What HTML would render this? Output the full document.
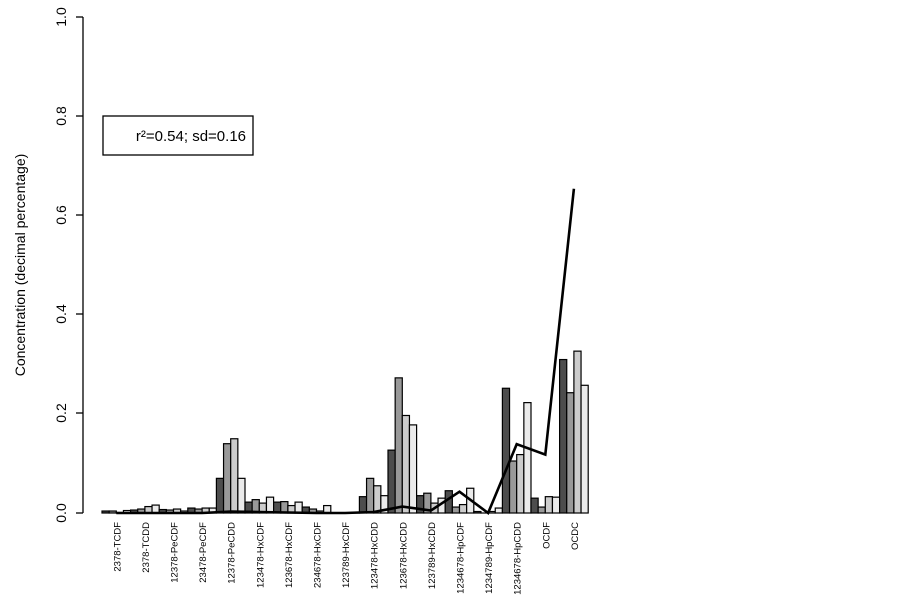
<!DOCTYPE html>
<html><head><meta charset="utf-8"><style>
html,body{margin:0;padding:0;background:#fff;}
svg{display:block;font-family:"Liberation Sans",Arial,sans-serif;}
</style></head><body>
<svg id="s" width="903" height="614" viewBox="0 0 903 614" xmlns="http://www.w3.org/2000/svg">
<g id="bars"></g>
<line x1="83" y1="17" x2="83" y2="513" stroke="#000" stroke-width="1.3"/>
<g stroke="#000" stroke-width="1.3">
<line x1="76" y1="17" x2="83" y2="17"/><line x1="76" y1="116" x2="83" y2="116"/>
<line x1="76" y1="215" x2="83" y2="215"/><line x1="76" y1="314" x2="83" y2="314"/>
<line x1="76" y1="413" x2="83" y2="413"/><line x1="76" y1="513" x2="83" y2="513"/>
</g>
<g font-size="14" fill="#000" text-anchor="middle">
<text transform="translate(66,17) rotate(-90)">1.0</text>
<text transform="translate(66,116) rotate(-90)">0.8</text>
<text transform="translate(66,215) rotate(-90)">0.6</text>
<text transform="translate(66,314) rotate(-90)">0.4</text>
<text transform="translate(66,413) rotate(-90)">0.2</text>
<text transform="translate(66,513) rotate(-90)">0.0</text>
<text transform="translate(25,265) rotate(-90)">Concentration (decimal percentage)</text>
</g>
<rect x="103" y="116" width="150" height="39" fill="#fff" stroke="#000" stroke-width="1.3"/>
<text x="246" y="141" font-size="15" text-anchor="end">r²=0.54; sd=0.16</text>
<g font-size="9.5" text-anchor="end" fill="#000">
<text transform="translate(120.3,522) rotate(-90)">2378-TCDF</text>
<text transform="translate(148.9,522) rotate(-90)">2378-TCDD</text>
<text transform="translate(177.5,522) rotate(-90)">12378-PeCDF</text>
<text transform="translate(206.1,522) rotate(-90)">23478-PeCDF</text>
<text transform="translate(234.7,522) rotate(-90)">12378-PeCDD</text>
<text transform="translate(263.3,522) rotate(-90)">123478-HxCDF</text>
<text transform="translate(291.9,522) rotate(-90)">123678-HxCDF</text>
<text transform="translate(320.5,522) rotate(-90)">234678-HxCDF</text>
<text transform="translate(349.1,522) rotate(-90)">123789-HxCDF</text>
<text transform="translate(377.7,522) rotate(-90)">123478-HxCDD</text>
<text transform="translate(406.3,522) rotate(-90)">123678-HxCDD</text>
<text transform="translate(434.9,522) rotate(-90)">123789-HxCDD</text>
<text transform="translate(463.5,522) rotate(-90)">1234678-HpCDF</text>
<text transform="translate(492.1,522) rotate(-90)">1234789-HpCDF</text>
<text transform="translate(520.7,522) rotate(-90)">1234678-HpCDD</text>
<text transform="translate(549.3,522) rotate(-90)">OCDF</text>
<text transform="translate(577.9,522) rotate(-90)">OCDC</text>
</g>
<polyline id="ln" fill="none" stroke="#000" stroke-width="2.6" stroke-linejoin="miter"/>
</svg>
<script>
var v=[[.004,.004,.001,.005],[.006,.008,.013,.016],[.007,.006,.008,.004],[.01,.008,.01,.01],
[.07,.14,.15,.07],[.022,.027,.02,.032],[.022,.023,.015,.022],[.012,.008,.004,.015],[0,0,0,0],
[.033,.07,.055,.035],[.127,.273,.197,.178],[.035,.04,.02,.03],[.045,.012,.017,.05],[.003,0,.003,.01],
[.252,.105,.118,.223],[.03,.012,.033,.032],[.31,.243,.327,.258]];
var c=["#4d4d4d","#999999","#cccccc","#ebebeb"];
var L=[0,0,0,0,.003,.002,.001,0,0,.002,.013,.005,.043,0,.139,.118,.655];
var ns="http://www.w3.org/2000/svg",g=document.getElementById("bars"),X0=102,G=28.6,W=7.15,Y0=513,S=495;
for(var i=0;i<17;i++)for(var j=0;j<4;j++){var h=v[i][j]*S,r=document.createElementNS(ns,"rect");
r.setAttribute("x",X0+i*G+j*W);r.setAttribute("y",Y0-h);r.setAttribute("width",W);r.setAttribute("height",Math.max(h,0.01));
r.setAttribute("fill",c[j]);r.setAttribute("stroke","#000");r.setAttribute("stroke-width","1.2");g.appendChild(r);}
var p=[];for(var i=0;i<17;i++)p.push((X0+(i+.5)*G)+","+(Y0-L[i]*S));
document.getElementById("ln").setAttribute("points",p.join(" "));
</script>
</body></html>
